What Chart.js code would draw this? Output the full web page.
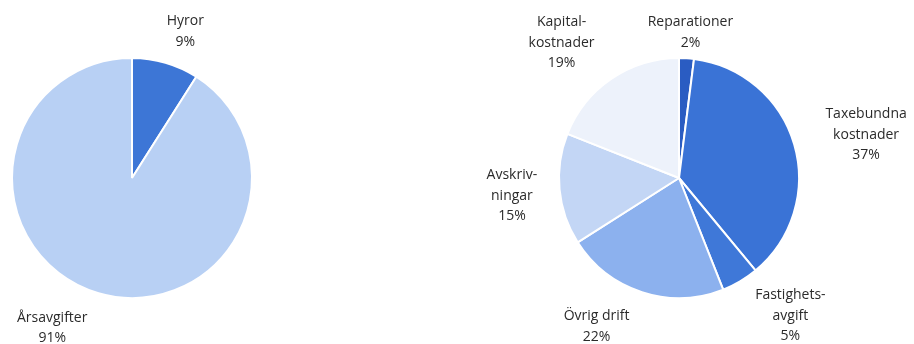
<!DOCTYPE html>
<html>
<head>
<meta charset="utf-8">
<script src="https://cdn.jsdelivr.net/npm/chart.js@4/dist/chart.umd.min.js"></script>
<style>
  html, body { margin: 0; padding: 0; background: #fff; }
  #wrap { position: relative; width: 914px; height: 344px; }
  .box { position: absolute; top: 0; width: 457px; height: 344px; }
</style>
</head>
<body>
<div id="wrap">
  <div class="box" style="left:0"><canvas id="left"></canvas></div>
  <div class="box" style="left:457px"><canvas id="right"></canvas></div>
</div>
<script>
'use strict';

// left pie: income
const leftLabels = [['Hyror'], ['Årsavgifter']];
const leftValues = [9, 91];
const leftColors = ['#3d76d6', '#b8d0f4'];

// right pie: costs
const rightLabels = [['Reparationer'], ['Taxebundna', 'kostnader'], ['Fastighets-', 'avgift'],
  ['Övrig drift'], ['Avskriv-', 'ningar'], ['Kapital-', 'kostnader']];
const rightValues = [2, 37, 5, 22, 15, 19];
const rightColors = ['#2a5cc2', '#3a73d6', '#3f78d8', '#8cb1ee', '#c3d6f5', '#edf2fb'];

// label placement: [angle from top in degrees, distance from centre]
const leftPlace = [[20, 156], [208, 170]];
const rightPlace = [[4.5, 146], [77, 192], [141, 177], [209, 170], [264, 168], [319, 179]];

const FONT = '14px "Open Sans", "Noto Sans", sans-serif';
const LINE = 20.5;

const labelPlugin = {
  id: 'outLabels',
  afterDatasetsDraw(chart, args, opts) {
    const ctx = chart.ctx;
    const arcs = chart.getDatasetMeta(0).data;
    const vals = chart.data.datasets[0].data;
    ctx.save();
    ctx.font = FONT;
    ctx.fillStyle = '#2b2b2b';
    ctx.textAlign = 'center';
    ctx.textBaseline = 'middle';
    arcs.forEach((arc, i) => {
      const lines = chart.data.labels[i].concat([vals[i] + '%']);
      const [deg, dist] = opts.place[i];
      const a = deg * Math.PI / 180;
      const cx = arc.x + Math.sin(a) * dist;
      const cy = arc.y - Math.cos(a) * dist;
      const top = cy - (lines.length - 1) * LINE / 2;
      lines.forEach((t, k) => ctx.fillText(t, cx, top + k * LINE));
    });
    ctx.restore();
  }
};

function pie(id, labels, values, colors, place, padding) {
  new Chart(document.getElementById(id), {
    type: 'pie',
    data: {
      labels: labels,
      datasets: [{
        data: values,
        backgroundColor: colors,
        borderColor: '#ffffff',
        borderWidth: 2,
        hoverOffset: 0
      }]
    },
    options: {
      responsive: true,
      maintainAspectRatio: false,
      animation: false,
      events: [],
      layout: { padding: padding },
      plugins: {
        legend: { display: false },
        tooltip: { enabled: false },
        outLabels: { place: place }
      }
    },
    plugins: [labelPlugin]
  });
}

pie('left', leftLabels, leftValues, leftColors, leftPlace, { left: 11, right: 204, top: 57, bottom: 45 });
pie('right', rightLabels, rightValues, rightColors, rightPlace, { left: 101, right: 114, top: 57, bottom: 45 });
</script>
</body>
</html>
